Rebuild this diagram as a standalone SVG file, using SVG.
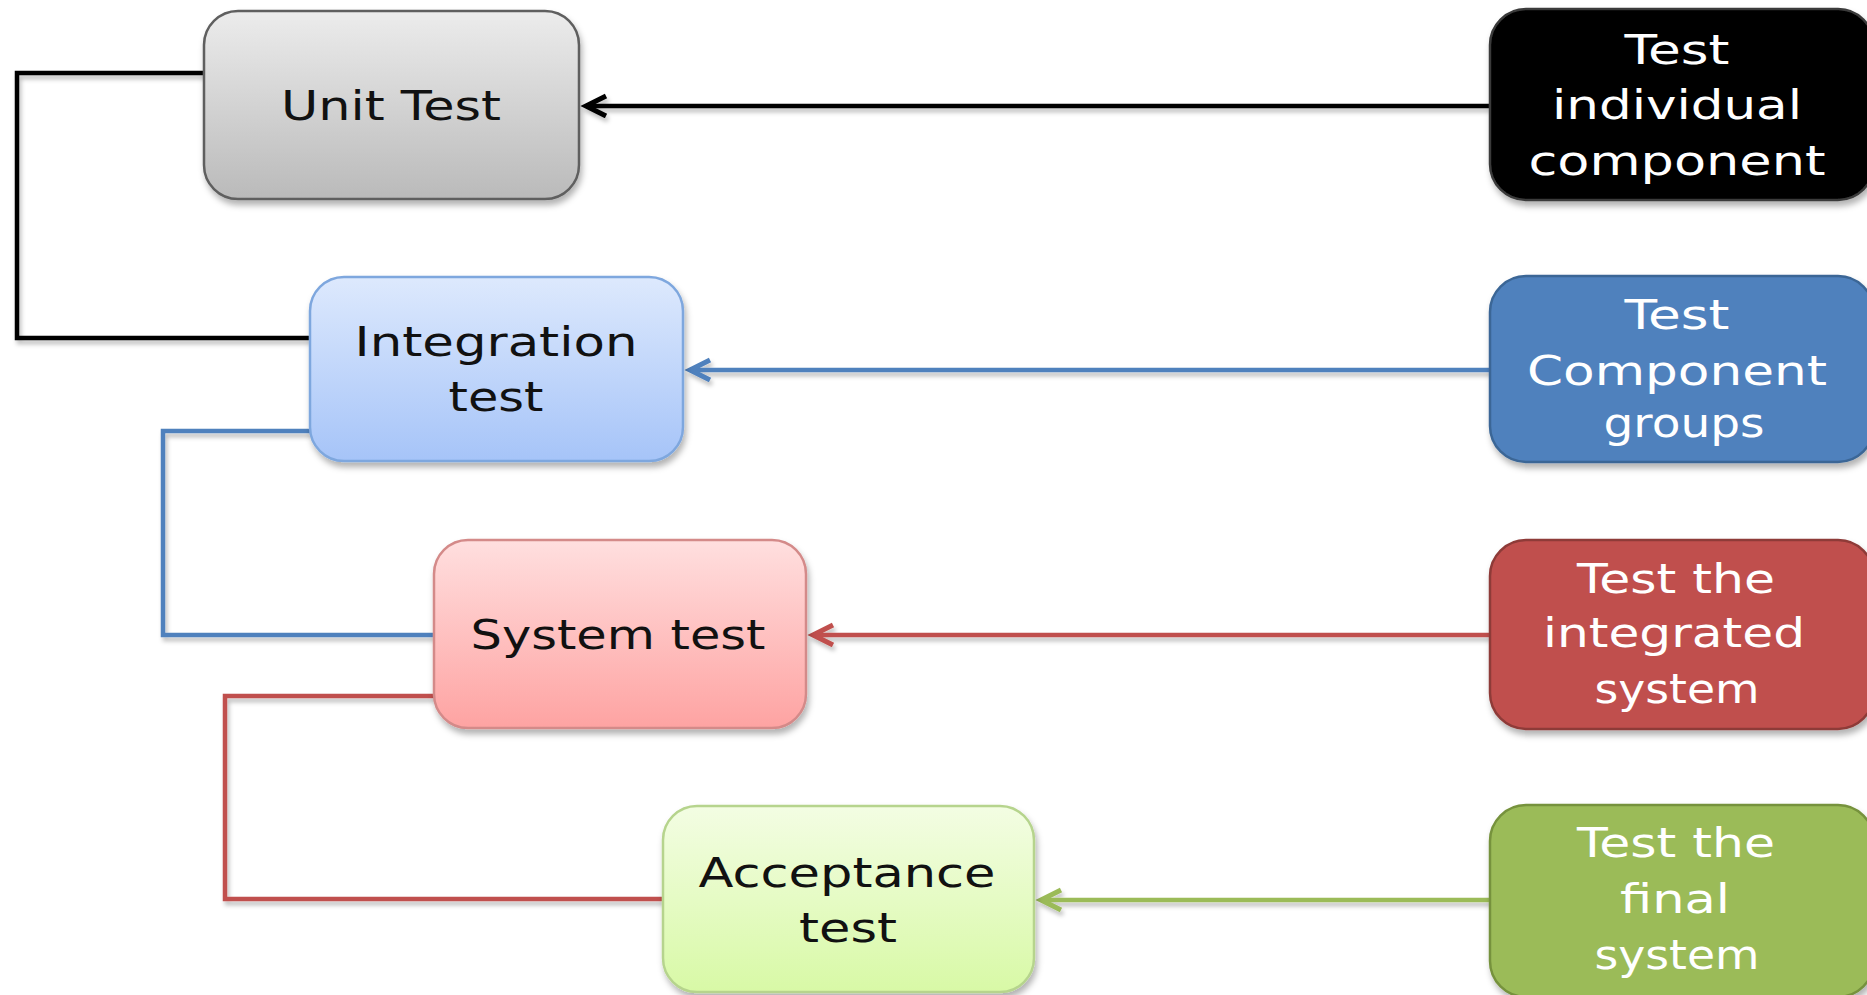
<svg xmlns="http://www.w3.org/2000/svg" width="1867" height="995" viewBox="0 0 1867 995">
<defs>
<linearGradient id="gGray" x1="0" y1="0" x2="0" y2="1"><stop offset="0" stop-color="#ececec"/><stop offset="1" stop-color="#bababa"/></linearGradient>
<linearGradient id="gBlue" x1="0" y1="0" x2="0" y2="1"><stop offset="0" stop-color="#dde9fd"/><stop offset="1" stop-color="#a6c4f8"/></linearGradient>
<linearGradient id="gRed" x1="0" y1="0" x2="0" y2="1"><stop offset="0" stop-color="#ffdfdf"/><stop offset="1" stop-color="#fea3a2"/></linearGradient>
<linearGradient id="gGreen" x1="0" y1="0" x2="0" y2="1"><stop offset="0" stop-color="#f3fde3"/><stop offset="1" stop-color="#d8f9a6"/></linearGradient>
<filter id="sh" x="-10%" y="-10%" width="125%" height="130%"><feDropShadow dx="2" dy="5" stdDeviation="3" flood-color="#000" flood-opacity="0.3"/></filter>
<filter id="lsh" filterUnits="userSpaceOnUse" x="0" y="0" width="1867" height="995"><feDropShadow dx="2" dy="4" stdDeviation="2" flood-color="#000" flood-opacity="0.25"/></filter>
<marker id="aK" markerWidth="32" markerHeight="28" refX="26" refY="12" orient="auto" markerUnits="userSpaceOnUse"><path d="M6,2 L26,12 L6,22" fill="none" stroke="#000" stroke-width="5"/></marker>
<marker id="aB" markerWidth="32" markerHeight="28" refX="26" refY="12" orient="auto" markerUnits="userSpaceOnUse"><path d="M6,2 L26,12 L6,22" fill="none" stroke="#4f81bd" stroke-width="5"/></marker>
<marker id="aR" markerWidth="32" markerHeight="28" refX="26" refY="12" orient="auto" markerUnits="userSpaceOnUse"><path d="M6,2 L26,12 L6,22" fill="none" stroke="#c0504d" stroke-width="5"/></marker>
<marker id="aG" markerWidth="32" markerHeight="28" refX="26" refY="12" orient="auto" markerUnits="userSpaceOnUse"><path d="M6,2 L26,12 L6,22" fill="none" stroke="#9bbb59" stroke-width="5"/></marker>
</defs>
<style>
text{font-family:"DejaVu Sans","Liberation Sans",sans-serif;font-size:41px;text-anchor:middle}
.dark{fill:#111}
.light{fill:#fff}
.box{filter:url(#sh);stroke-width:2.5}
.con{fill:none;stroke-width:4.5;filter:url(#lsh)}
</style>
<rect width="1867" height="995" fill="#fff"/>
<g id="connectors">
<path class="con" stroke="#000" d="M204,73 H17 V338 H310"/>
<path class="con" stroke="#4f81bd" d="M310,431 H163 V635 H434"/>
<path class="con" stroke="#c0504d" d="M434,696 H225 V899 H663"/>
<path class="con" stroke="#000" d="M1490,106 H586" marker-end="url(#aK)"/>
<path class="con" stroke="#4f81bd" d="M1490,370 H690" marker-end="url(#aB)"/>
<path class="con" stroke="#c0504d" d="M1490,635 H813" marker-end="url(#aR)"/>
<path class="con" stroke="#9bbb59" d="M1490,900 H1041" marker-end="url(#aG)"/>
</g>
<g id="unit-test">
<rect class="box" x="204" y="11" width="375" height="188" rx="34" fill="url(#gGray)" stroke="#5e5e5e"/>
<text class="dark" x="391" y="120" textLength="220" lengthAdjust="spacingAndGlyphs">Unit Test</text>
</g>
<g id="integration-test">
<rect class="box" x="310" y="277" width="373" height="184" rx="34" fill="url(#gBlue)" stroke="#7ea7de"/>
<text class="dark" x="496" y="356" textLength="283" lengthAdjust="spacingAndGlyphs">Integration</text>
<text class="dark" x="496" y="411" textLength="95" lengthAdjust="spacingAndGlyphs">test</text>
</g>
<g id="system-test">
<rect class="box" x="434" y="540" width="372" height="188" rx="34" fill="url(#gRed)" stroke="#d48a89"/>
<text class="dark" x="618" y="649" textLength="295" lengthAdjust="spacingAndGlyphs">System test</text>
</g>
<g id="acceptance-test">
<rect class="box" x="663" y="806" width="371" height="186" rx="34" fill="url(#gGreen)" stroke="#b6d48d"/>
<text class="dark" x="847" y="887" textLength="297" lengthAdjust="spacingAndGlyphs">Acceptance</text>
<text class="dark" x="848" y="942" textLength="98" lengthAdjust="spacingAndGlyphs">test</text>
</g>
<g id="desc-unit">
<rect class="box" x="1490" y="9" width="384" height="191" rx="36" fill="#000" stroke="#3a3a3a"/>
<text class="light" x="1677" y="64" textLength="105" lengthAdjust="spacingAndGlyphs">Test</text>
<text class="light" x="1677" y="119" textLength="250" lengthAdjust="spacingAndGlyphs">individual</text>
<text class="light" x="1677" y="175" textLength="297" lengthAdjust="spacingAndGlyphs">component</text>
</g>
<g id="desc-integration">
<rect class="box" x="1490" y="276" width="384" height="186" rx="36" fill="#4f81bd" stroke="#3b6696"/>
<text class="light" x="1677" y="329" textLength="105" lengthAdjust="spacingAndGlyphs">Test</text>
<text class="light" x="1677" y="385" textLength="300" lengthAdjust="spacingAndGlyphs">Component</text>
<text class="light" x="1684" y="437" textLength="161" lengthAdjust="spacingAndGlyphs">groups</text>
</g>
<g id="desc-system">
<rect class="box" x="1490" y="540" width="384" height="189" rx="36" fill="#c0504d" stroke="#8e3a38"/>
<text class="light" x="1676" y="593" textLength="198" lengthAdjust="spacingAndGlyphs">Test the</text>
<text class="light" x="1674" y="647" textLength="262" lengthAdjust="spacingAndGlyphs">integrated</text>
<text class="light" x="1677" y="703" textLength="165" lengthAdjust="spacingAndGlyphs">system</text>
</g>
<g id="desc-acceptance">
<rect class="box" x="1490" y="805" width="384" height="192" rx="36" fill="#9bbb59" stroke="#76923c"/>
<text class="light" x="1676" y="857" textLength="198" lengthAdjust="spacingAndGlyphs">Test the</text>
<text class="light" x="1675" y="913" textLength="110" lengthAdjust="spacingAndGlyphs">final</text>
<text class="light" x="1677" y="969" textLength="165" lengthAdjust="spacingAndGlyphs">system</text>
</g>
</svg>
